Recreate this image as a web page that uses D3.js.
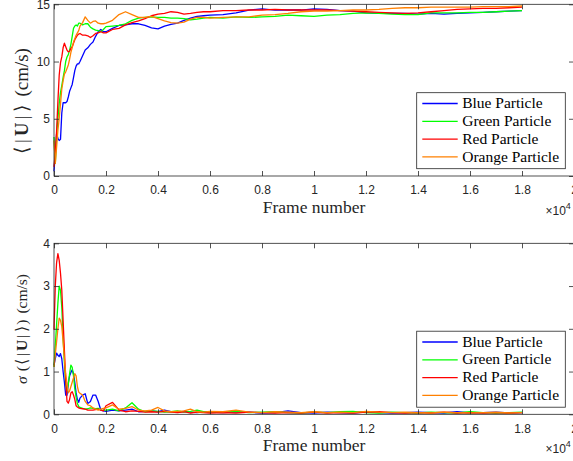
<!DOCTYPE html>
<html>
<head>
<meta charset="utf-8">
<script src="https://cdn.jsdelivr.net/npm/d3@7"></script>
<style>
  html, body { margin: 0; padding: 0; background: #fff; }
  svg { display: block; }
  .tick text { font-family: "Liberation Sans", Arial, Helvetica, sans-serif; font-size: 12px; fill: #262626; }
  .tick line { stroke: #262626; stroke-width: 0.8; }
</style>
</head>
<body>
<script>
// Frame numbers at which the four tracks were sampled
const frames = [
  0, 50, 100, 150, 200, 250, 300, 350, 400, 450, 500, 550, 600, 650, 700, 750, 800, 850, 900, 950, 1000,
  1100, 1200, 1300, 1400, 1500, 1600, 1700, 1800, 1900, 2000,
  2250, 2500, 2750, 3000, 3250, 3500, 3750, 4000, 4250, 4500, 4750, 5000, 5250, 5500, 5750, 6000,
  6500, 7000, 7500, 8000, 8500, 9000, 9500, 10000, 10500, 11000, 11500, 12000, 12500, 13000, 13500,
  14000, 14500, 15000, 15500, 16000, 16500, 17000, 17500, 18000
];

// Running mean speed <|U|> (cm/s)
const meanBlue = [
  0.4, 2.0, 3.7, 3.3, 3.1, 3.2, 5.5, 6.4, 6.4, 6.4, 6.5, 6.9, 7.4, 7.7, 8.0, 8.6, 9.2, 9.6, 9.8, 9.8, 10.0,
  10.5, 11.0, 11.2, 11.5, 11.7, 12.2, 12.6, 12.8, 12.6, 12.6,
  12.9, 13.15, 13.2, 13.3, 13.3, 13.15, 12.95, 12.85, 13.1, 13.25, 13.35, 13.6, 13.8, 13.95, 14.0, 14.05,
  14.1, 14.25, 14.5, 14.6, 14.5, 14.5, 14.5, 14.6, 14.55, 14.45, 14.4, 14.25, 14.2, 14.2, 14.2,
  14.15, 14.2, 14.15, 14.2, 14.25, 14.3, 14.35, 14.4, 14.45
];
const meanGreen = [
  3.4, 1.1, 3.5, 5.0, 6.3, 7.3, 7.9, 8.6, 9.2, 10.0, 10.4, 10.6, 11.0, 11.5, 12.2, 12.9, 13.1, 13.2, 13.1, 13.35, 13.35,
  13.2, 13.3, 13.3, 13.0, 12.85, 12.75, 12.7, 12.6, 12.8, 13.05,
  13.1, 13.15, 13.3, 13.6, 13.8, 13.85, 13.9, 13.85, 13.85, 13.8, 13.8, 13.75, 13.65, 13.7, 13.8, 13.85,
  13.8, 13.9, 13.85, 13.9, 13.95, 14.05, 14.0, 13.95, 14.05, 14.1, 14.2, 14.25, 14.2, 14.15, 14.1,
  14.1, 14.25, 14.25, 14.25, 14.3, 14.3, 14.35, 14.4, 14.45
];
const meanRed = [
  0.8, 2.0, 3.9, 6.5, 8.8, 9.9, 10.4, 11.2, 11.6, 11.3, 11.0, 10.85, 10.9, 11.15, 11.3, 11.6, 11.9, 12.1, 12.3, 12.4, 12.45,
  12.3, 12.3, 12.25, 12.1, 12.25, 12.45, 12.5, 12.6, 12.5, 12.5,
  12.8, 12.9, 13.2, 13.4, 13.55, 13.75, 14.0, 14.15, 14.2, 14.35, 14.3, 14.15, 14.2, 14.3, 14.35, 14.35,
  14.45, 14.45, 14.5, 14.5, 14.55, 14.5, 14.5, 14.5, 14.5, 14.45, 14.4, 14.35, 14.3, 14.25, 14.2,
  14.25, 14.35, 14.45, 14.55, 14.6, 14.65, 14.65, 14.7, 14.75
];
const meanOrange = [
  3.1, 1.1, 2.5, 4.0, 5.0, 6.3, 7.6, 8.3, 8.9, 9.1, 9.4, 9.7, 10.2, 10.8, 11.2, 11.7, 12.0, 12.3, 12.5, 12.7, 13.1,
  13.4, 13.9, 13.6, 13.35, 13.5, 13.55, 13.35, 13.3, 13.3, 13.35,
  13.6, 14.1, 14.35, 14.1, 13.85, 13.85, 13.95, 13.75, 13.55, 13.4, 13.35, 13.45, 13.7, 13.85, 13.85, 13.8,
  13.85, 13.9, 13.9, 14.05, 14.1, 14.2, 14.35, 14.4, 14.4, 14.45, 14.5, 14.5, 14.55, 14.65, 14.7,
  14.7, 14.75, 14.75, 14.75, 14.75, 14.8, 14.8, 14.8, 14.85
];

// Standard deviation of the running mean (cm/s)
const sdBlue = [
  1.15, 1.3, 1.43, 1.38, 1.35, 1.42, 1.3, 1.0, 0.75, 0.45, 0.45, 0.73, 0.9, 0.98, 1.04, 0.95, 0.75, 0.5, 0.35, 0.28, 0.38,
  0.45, 0.48, 0.25, 0.3, 0.45, 0.45, 0.3, 0.1, 0.08, 0.07,
  0.1, 0.08, 0.1, 0.12, 0.06, 0.07, 0.08, 0.06, 0.1, 0.06, 0.05, 0.07, 0.05, 0.04, 0.06, 0.05,
  0.04, 0.06, 0.05, 0.03, 0.04, 0.08, 0.04, 0.03, 0.05, 0.04, 0.03, 0.06, 0.04, 0.03, 0.04,
  0.05, 0.04, 0.03, 0.06, 0.03, 0.04, 0.05, 0.03, 0.04
];
const sdGreen = [
  1.11, 1.6, 2.1, 2.6, 3.0, 2.9, 2.5, 1.8, 1.2, 0.7, 0.55, 0.7, 0.95, 1.15, 1.1, 0.9, 0.6, 0.4, 0.25, 0.18, 0.16,
  0.14, 0.12, 0.13, 0.15, 0.14, 0.13, 0.14, 0.1, 0.09, 0.1,
  0.12, 0.08, 0.15, 0.27, 0.12, 0.06, 0.08, 0.07, 0.05, 0.06, 0.08, 0.05, 0.07, 0.1, 0.06, 0.05,
  0.05, 0.07, 0.04, 0.05, 0.06, 0.04, 0.03, 0.05, 0.04, 0.06, 0.07, 0.04, 0.03, 0.05, 0.04,
  0.03, 0.05, 0.04, 0.03, 0.06, 0.04, 0.03, 0.04, 0.05
];
const sdRed = [
  1.98, 3.0, 3.55, 3.76, 3.6, 3.3, 2.9, 2.2, 1.5, 0.8, 0.3, 0.26, 0.35, 0.5, 0.53, 0.45, 0.35, 0.2, 0.17, 0.15, 0.14,
  0.13, 0.12, 0.1, 0.1, 0.1, 0.11, 0.12, 0.1, 0.08, 0.2,
  0.28, 0.1, 0.06, 0.08, 0.07, 0.05, 0.06, 0.05, 0.07, 0.05, 0.04, 0.06, 0.03, 0.05, 0.04, 0.03,
  0.04, 0.03, 0.05, 0.04, 0.03, 0.04, 0.03, 0.05, 0.03, 0.04, 0.03, 0.05, 0.06, 0.04, 0.03,
  0.04, 0.03, 0.05, 0.03, 0.04, 0.03, 0.04, 0.03, 0.04
];
const sdOrange = [
  1.11, 1.4, 1.7, 2.0, 2.25, 2.2, 2.05, 1.7, 1.3, 0.95, 0.72, 0.5, 0.55, 0.65, 0.75, 0.85, 0.95, 0.9, 0.65, 0.52, 0.49,
  0.45, 0.3, 0.22, 0.2, 0.15, 0.12, 0.1, 0.12, 0.14, 0.15,
  0.22, 0.12, 0.14, 0.18, 0.1, 0.08, 0.1, 0.16, 0.08, 0.06, 0.07, 0.08, 0.12, 0.06, 0.05, 0.07,
  0.06, 0.1, 0.05, 0.04, 0.06, 0.05, 0.04, 0.06, 0.04, 0.05, 0.04, 0.07, 0.05, 0.04, 0.05,
  0.04, 0.03, 0.05, 0.04, 0.03, 0.04, 0.05, 0.03, 0.04
];

const seriesNames = ["Blue Particle", "Green Particle", "Red Particle", "Orange Particle"];
const seriesColors = ["#0000ff", "#00ff00", "#ff0000", "#ff8000"];
const xTicks = [0, 2000, 4000, 6000, 8000, 10000, 12000, 14000, 16000, 18000, 20000];
const meanTicks = [0, 5, 10, 15];
const sdTicks = [0, 1, 2, 3, 4];

const W = 573, H = 461;
const axisColor = "#262626";
const serif = "'Liberation Serif', 'Times New Roman', serif";

const svg = d3.select("body").append("svg")
  .attr("width", W).attr("height", H)
  .attr("viewBox", `0 0 ${W} ${H}`);

const x = d3.scaleLinear().domain([0, 20000]).range([54, 574]);
const fmtX = d => d === 0 ? "0" : String(+(d / 1e4).toFixed(1));

// Appends math-style pieces to a text element; each piece is [text, dx, style]
function mathText(t, pieces) {
  pieces.forEach(([s, dx, style]) => {
    const ts = t.append("tspan").attr("dx", dx).text(s);
    if (style === "b") ts.attr("font-weight", "bold");
    if (style === "i") ts.attr("font-style", "italic");
  });
}

function drawPanel(opts) {
  const { top, bottom, yDomain, yTicks, series, yLabel } = opts;
  const y = d3.scaleLinear().domain(yDomain).range([bottom, top]);
  const g = svg.append("g");

  // plot area
  g.append("rect")
    .attr("x", x.range()[0]).attr("y", top)
    .attr("width", x.range()[1] - x.range()[0]).attr("height", bottom - top)
    .attr("fill", "#fff");

  // data lines
  const line = d3.line().x((d, i) => x(frames[i])).y(d => y(d));
  series.forEach((vals, k) => {
    g.append("path")
      .datum(vals)
      .attr("fill", "none")
      .attr("stroke", seriesColors[k])
      .attr("stroke-width", 1.3)
      .attr("stroke-linejoin", "round")
      .attr("d", line);
  });

  // axes with inward ticks
  const ax = g.append("g").attr("transform", `translate(0,${bottom})`)
    .call(d3.axisBottom(x).tickValues(xTicks).tickFormat(fmtX).tickSizeInner(-5).tickSizeOuter(0).tickPadding(9.8));
  const axTop = g.append("g").attr("transform", `translate(0,${top})`)
    .call(d3.axisTop(x).tickValues(xTicks).tickFormat("").tickSizeInner(-5).tickSizeOuter(0));
  const ay = g.append("g").attr("transform", `translate(${x.range()[0]},0)`)
    .call(d3.axisLeft(y).tickValues(yTicks).tickFormat(d3.format("d")).tickSizeInner(-5).tickSizeOuter(0).tickPadding(4));
  const ayR = g.append("g").attr("transform", `translate(${x.range()[1]},0)`)
    .call(d3.axisRight(y).tickValues(yTicks).tickFormat("").tickSizeInner(-5).tickSizeOuter(0));
  [ax, axTop, ay, ayR].forEach(a => {
    a.select(".domain").remove();
    a.attr("font-family", null).attr("font-size", null);
  });

  // axes box
  g.append("rect")
    .attr("x", x.range()[0]).attr("y", top)
    .attr("width", x.range()[1] - x.range()[0]).attr("height", bottom - top)
    .attr("fill", "none").attr("stroke", axisColor).attr("stroke-width", 0.8);

  // x label
  g.append("text")
    .attr("x", (x.range()[0] + x.range()[1]) / 2).attr("y", bottom + 37)
    .attr("text-anchor", "middle")
    .attr("font-family", serif).attr("font-size", 17.5).attr("fill", axisColor)
    .text("Frame number");

  // exponent marker
  const ex = g.append("text")
    .attr("x", 545.5).attr("y", bottom + 38.5)
    .attr("font-family", "'Liberation Sans', Arial, sans-serif").attr("font-size", 12).attr("fill", axisColor);
  ex.append("tspan").text("\u00d710");
  ex.append("tspan").attr("dy", -6).attr("font-size", 9).text("4");

  // y label
  yLabel(g);

  // legend
  const lx = 416.7, ly = opts.legendTop, lw = 148.6, lh = 76;
  const lg = g.append("g");
  lg.append("rect").attr("x", lx).attr("y", ly).attr("width", lw).attr("height", lh)
    .attr("fill", "#fff").attr("stroke", axisColor).attr("stroke-width", 0.8);
  seriesNames.forEach((name, k) => {
    const cy = ly + 10.8 + k * 17.8;
    lg.append("line").attr("x1", lx + 5.6).attr("x2", lx + 41).attr("y1", cy).attr("y2", cy)
      .attr("stroke", seriesColors[k]).attr("stroke-width", 1.3);
    lg.append("text").attr("x", lx + 45.5).attr("y", cy + 4.6)
      .attr("font-family", serif).attr("font-size", 15.5).attr("fill", "#000")
      .text(name);
  });
}

drawPanel({
  top: 4.3, bottom: 176, yDomain: [0, 15], yTicks: meanTicks,
  series: [meanBlue, meanGreen, meanRed, meanOrange],
  legendTop: 92.7,
  yLabel: g => {
    const t = g.append("text")
      .attr("transform", "translate(28,101) rotate(-90)")
      .attr("text-anchor", "middle")
      .attr("font-family", serif).attr("font-size", 19).attr("fill", axisColor);
    mathText(t, [["\u27e8", 0], ["|", 4], ["U", 3, "b"], ["|", 3], ["\u27e9", 4], ["(cm/s)", 8]]);
  }
});

drawPanel({
  top: 243.3, bottom: 414.3, yDomain: [0, 4], yTicks: sdTicks,
  series: [sdBlue, sdGreen, sdRed, sdOrange],
  legendTop: 331.2,
  yLabel: g => {
    const t = g.append("text")
      .attr("transform", "translate(27,329) rotate(-90)")
      .attr("text-anchor", "middle")
      .attr("font-family", serif).attr("font-size", 15.5).attr("fill", axisColor);
    mathText(t, [["\u03c3", 0, "i"], ["(", 5], ["\u27e8", 1], ["|", 3], ["U", 2, "b"], ["|", 2], ["\u27e9", 3], [")", 1], ["(cm/s)", 6]]);
  }
});
</script>
</body>
</html>
